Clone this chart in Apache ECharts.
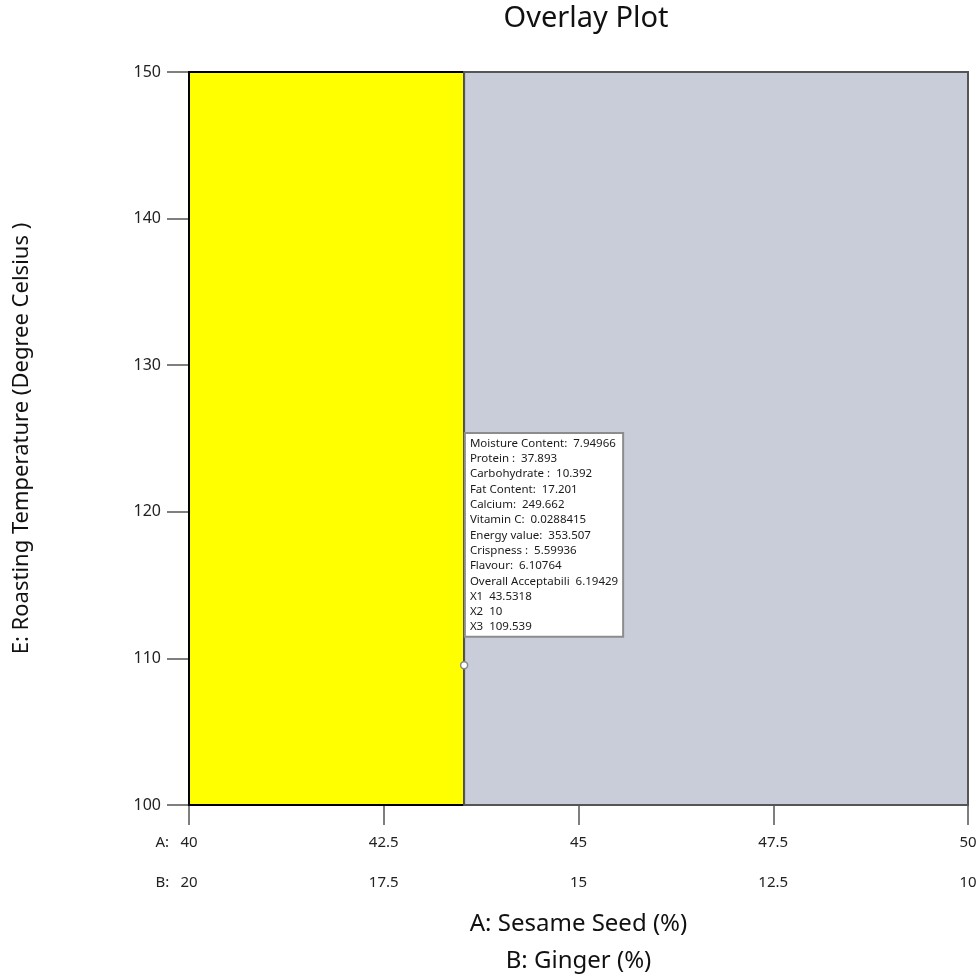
<!DOCTYPE html>
<html>
<head>
<meta charset="utf-8">
<script src="https://cdn.jsdelivr.net/npm/echarts@6/dist/echarts.min.js"></script>
<style>
  html, body { margin: 0; padding: 0; background: #fff; }
  #chart { width: 980px; height: 979px; }
</style>
</head>
<body>
<div id="chart"></div>
<script>
// Factor ranges and tick labels
const aTicks = [40, 42.5, 45, 47.5, 50];      // A: Sesame Seed (%)
const bTicks = [20, 17.5, 15, 12.5, 10];      // B: Ginger (%)
const tempRange = [100, 150];                 // E: Roasting Temperature

// Boundary between the feasible (yellow) and infeasible (grey) regions
const boundaryA = 43.5318;

// Flagged point and its predicted responses
const flagPoint = [43.5318, 109.539];
const responseNames = [
  'Moisture Content:', 'Protein :', 'Carbohydrate :', 'Fat Content:',
  'Calcium:', 'Vitamin C:', 'Energy value:', 'Crispness :', 'Flavour:',
  'Overall Acceptabili', 'X1', 'X2', 'X3'
];
const responseValues = [
  '7.94966', '37.893', '10.392', '17.201', '249.662', '0.0288415',
  '353.507', '5.59936', '6.10764', '6.19429', '43.5318', '10', '109.539'
];

const FONT = '"Noto Sans", "Open Sans", sans-serif';
const flagText = responseNames.map((n, i) => n + '  ' + responseValues[i]).join('\n');

const chart = echarts.init(document.getElementById('chart'));

// Both bottom axes share the A scale; the B row shows the matching B value
const tickLabel = (ticks, prefix) => (v) => {
  const i = aTicks.indexOf(v);
  const txt = String(ticks[i]);
  if (i === 0) return '{pre|' + prefix + '}{v|' + txt + '}{pad|}';
  return '{v|' + txt + '}';
};
const richLabel = {
  pre: { width: 25, align: 'left', fontSize: 15, color: '#222', fontFamily: FONT },
  v: { fontSize: 15, color: '#222', fontFamily: FONT },
  pad: { width: 25 }
};

chart.setOption({
  animation: false,
  backgroundColor: '#fff',
  title: {
    text: 'Overlay Plot',
    left: 581,
    top: -1,
    textAlign: 'center',
    textStyle: { fontFamily: FONT, fontSize: 29, fontWeight: 'normal', color: '#111' }
  },
  grid: { left: 189, right: 12, top: 72, bottom: 174 },
  xAxis: [
    {
      type: 'value', min: aTicks[0], max: aTicks[aTicks.length - 1], interval: 2.5,
      position: 'bottom',
      name: 'A: Sesame Seed (%)', nameLocation: 'middle', nameGap: 107,
      nameTextStyle: { fontFamily: FONT, fontSize: 24, color: '#111' },
      axisLine: { show: true, lineStyle: { color: '#444', width: 2 } },
      axisTick: { show: true, length: 20, lineStyle: { color: '#555', width: 1.5 } },
      axisLabel: { margin: 30, formatter: tickLabel(aTicks, 'A:'), rich: richLabel },
      splitLine: { show: false }
    },
    {
      type: 'value', min: aTicks[0], max: aTicks[aTicks.length - 1], interval: 2.5,
      position: 'bottom', offset: 40,
      name: 'B: Ginger (%)', nameLocation: 'middle', nameGap: 104,
      nameTextStyle: { fontFamily: FONT, fontSize: 24, color: '#111' },
      axisLine: { show: false },
      axisTick: { show: false },
      axisLabel: { margin: 30, formatter: tickLabel(bTicks, 'B:'), rich: richLabel },
      splitLine: { show: false }
    }
  ],
  yAxis: {
    type: 'value', min: tempRange[0], max: tempRange[1], interval: 10,
    name: 'E: Roasting Temperature (Degree Celsius )', nameLocation: 'middle', nameGap: 156,
    nameTextStyle: { fontFamily: FONT, fontSize: 22, color: '#111' },
    axisLine: { show: true, lineStyle: { color: '#000', width: 2 } },
    axisTick: { show: true, length: 22, lineStyle: { color: '#555', width: 1.5 } },
    axisLabel: { margin: 28, fontFamily: FONT, fontSize: 16, color: '#222' },
    splitLine: { show: false }
  },
  series: [
    {
      type: 'scatter',
      xAxisIndex: 0,
      data: [flagPoint],
      symbol: 'circle',
      symbolSize: 7,
      z: 5,
      itemStyle: { color: '#fff', borderColor: '#888', borderWidth: 1.5, opacity: 1 },
      label: {
        show: true,
        formatter: flagText,
        position: [6, -227],
        align: 'left',
        verticalAlign: 'top',
        fontFamily: FONT,
        fontSize: 11.5,
        lineHeight: 15.3,
        color: '#1a1a1a',
        backgroundColor: '#fff',
        borderColor: '#8c8c8c',
        borderWidth: 2,
        padding: [2, 4, 1, 4]
      },
      markArea: {
        silent: true,
        data: [
          [
            { coord: [aTicks[0], tempRange[0]],
              itemStyle: { color: '#ffff00', borderColor: '#000', borderWidth: 2, opacity: 1 } },
            { coord: [boundaryA, tempRange[1]] }
          ],
          [
            { coord: [boundaryA, tempRange[0]],
              itemStyle: { color: '#c8cdd9', borderColor: '#555', borderWidth: 2, opacity: 1 } },
            { coord: [aTicks[aTicks.length - 1], tempRange[1]] }
          ]
        ]
      }
    }
  ]
});
</script>
</body>
</html>
